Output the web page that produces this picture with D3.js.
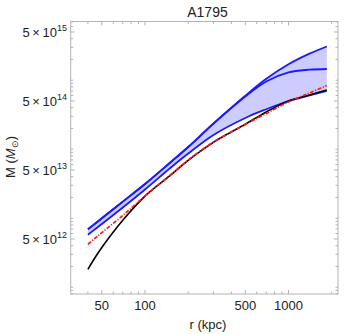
<!DOCTYPE html>
<html><head><meta charset="utf-8">
<script src="https://cdn.jsdelivr.net/npm/d3@7"></script>
<style>body{margin:0;background:#fff}svg{display:block;font-family:"Liberation Sans",Arial,sans-serif}</style>
</head><body>
<svg id="c" width="347" height="334"></svg>
<script>
const title = "A1795";
const radius = [40, 45, 50, 70, 100, 150, 200, 300, 500, 700, 1000, 1400, 1850];
const massUpperA = [6.92e12, 8.39e12, 9.98e12, 1.74e13, 3.13e13, 6.42e13, 1.077e14, 2.36e14, 5.97e14, 1.049e15, 1.702e15, 2.425e15, 3.08e15];
const massUpperB = [6.92e12, 8.39e12, 9.98e12, 1.74e13, 3.13e13, 6.42e13, 1.077e14, 2.35e14, 5.81e14, 9.6e14, 1.30e15, 1.42e15, 1.455e15];
const massLower  = [5.77e12, 6.98e12, 8.25e12, 1.43e13, 2.61e13, 5.35e13, 8.67e13, 1.61e14, 2.84e14, 3.80e14, 5.00e14, 6.01e14, 6.98e14];
const massRed    = [4.19e12, 5.15e12, 6.19e12, 1.096e13, 2.10e13, 4.23e13, 6.98e13, 1.273e14, 2.28e14, 3.30e14, 4.84e14, 6.53e14, 8.39e14];
const massBlack  = [1.82e12, 2.72e12, 3.77e12, 9.33e12, 2.09e13, 4.18e13, 6.90e13, 1.26e14, 2.30e14, 3.47e14, 5.00e14, 6.11e14, 7.21e14];
const xTickLabels = [50, 100, 500, 1000];
const yTickExps = [12, 13, 14, 15];

const svg = d3.select("#c");
const L = 70.7, R = 338, T = 21.5, B = 294;
const x = d3.scaleLog().domain([30.35, 2213]).range([L, R]);
const y = d3.scaleLog().domain([Math.pow(10, 11.902), Math.pow(10, 15.851)]).range([B, T]);

const curve = d3.curveCatmullRom.alpha(0.5);
const band = radius.map((r, i) => ({r, hi: massUpperA[i], lo: massLower[i]}));
svg.append("path").datum(band)
  .attr("d", d3.area().x(d => x(d.r)).y0(d => y(d.lo)).y1(d => y(d.hi)).curve(curve))
  .attr("fill", "#ccccff");

const line = d3.line().x(d => x(d[0])).y(d => y(d[1])).curve(curve);
const pts = arr => radius.map((r, i) => [r, arr[i]]);
[massLower, massUpperB, massUpperA].forEach(a => {
  svg.append("path").datum(pts(a)).attr("d", line)
    .attr("fill", "none").attr("stroke", "#1a1aff").attr("stroke-width", 1.8);
});
svg.append("path").datum(pts(massBlack)).attr("d", line)
  .attr("fill", "none").attr("stroke", "#000").attr("stroke-width", 1.6);
svg.append("path").datum(pts(massRed)).attr("d", line)
  .attr("fill", "none").attr("stroke", "#ff1a1a").attr("stroke-width", 1.7)
  .attr("stroke-dasharray", "4,1.5,1.2,1.5");

svg.append("rect").attr("x", L).attr("y", T).attr("width", R - L).attr("height", B - T)
  .attr("fill", "none").attr("stroke", "#b3b3b3").attr("stroke-width", 1);

const tickCol = "#b3b3b3";
const xt = [];
for (let e = 1; e <= 3; e++) for (let m = 1; m <= 9; m++) { const v = m * Math.pow(10, e); if (v >= 30.35 && v <= 2213) xt.push(v); }
xt.forEach(v => {
  const len = xTickLabels.includes(v) ? 4 : 2.5;
  svg.append("line").attr("x1", x(v)).attr("x2", x(v)).attr("y1", B).attr("y2", B - len).attr("stroke", tickCol);
  svg.append("line").attr("x1", x(v)).attr("x2", x(v)).attr("y1", T).attr("y2", T + len).attr("stroke", tickCol);
});
const yt = [];
for (let e = 11; e <= 15; e++) for (let m = 1; m <= 9; m++) { const v = m * Math.pow(10, e); if (Math.log10(v) >= 11.902 && Math.log10(v) <= 15.851) yt.push([v, m === 5]); }
yt.forEach(([v, major]) => {
  const len = major ? 4 : 2.5;
  svg.append("line").attr("x1", L).attr("x2", L + len).attr("y1", y(v)).attr("y2", y(v)).attr("stroke", tickCol);
  svg.append("line").attr("x1", R).attr("x2", R - len).attr("y1", y(v)).attr("y2", y(v)).attr("stroke", tickCol);
});

const txtCol = "#222";
xTickLabels.forEach(v => {
  svg.append("text").attr("x", x(v)).attr("y", 310).attr("text-anchor", "middle")
    .attr("font-size", 13).attr("fill", txtCol).text(v);
});
yTickExps.forEach(e => {
  const t = svg.append("text").attr("x", 67).attr("y", y(5 * Math.pow(10, e)) + 4.6)
    .attr("text-anchor", "end").attr("font-size", 13).attr("fill", txtCol);
  t.append("tspan").text("5\u2009\u00d7\u200910");
  t.append("tspan").attr("dy", -5.5).attr("font-size", 9).text(e);
});
svg.append("text").attr("x", 207.5).attr("y", 16.5).attr("text-anchor", "middle")
  .attr("font-size", 14).attr("fill", txtCol).text(title);
svg.append("text").attr("x", 208).attr("y", 329).attr("text-anchor", "middle")
  .attr("font-size", 13).attr("fill", txtCol).text("r (kpc)");
const yl = svg.append("text").attr("transform", "translate(15,157) rotate(-90)")
  .attr("text-anchor", "middle").attr("font-size", 13).attr("fill", txtCol);
yl.append("tspan").text("M (");
yl.append("tspan").attr("font-style", "italic").text("M");
yl.append("tspan").attr("dy", 3).attr("font-size", 9).text("\u2299");
yl.append("tspan").attr("dy", -3).text(")");
</script>
</body></html>
